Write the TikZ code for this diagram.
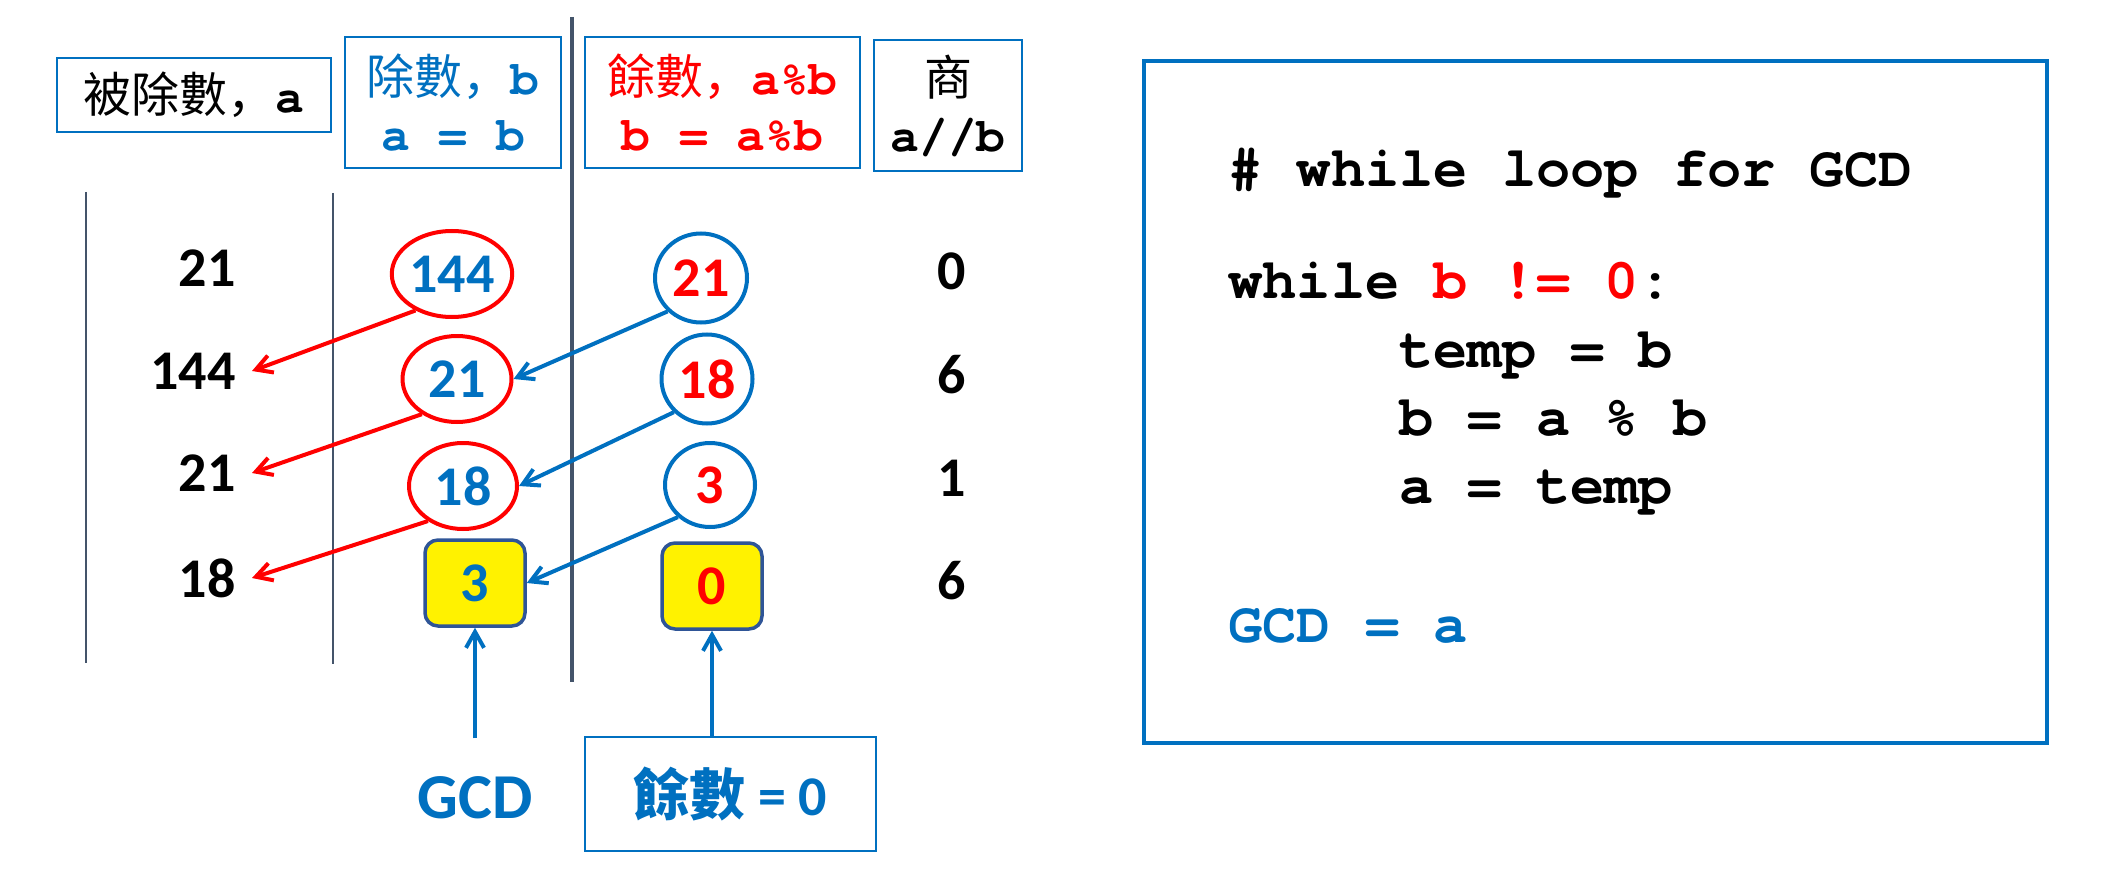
\documentclass[tikz,border=0pt]{standalone}
\usepackage{fontspec}
\usepackage{tikz}
\usetikzlibrary{shapes.geometric,arrows.meta}
\newfontfamily\cjkfont{Noto Sans CJK SC}
\newfontfamily\courfont{texgyrecursor}[Extension=.otf,UprightFont=*-regular,BoldFont=*-bold]
\newfontfamily\calfont{Carlito}
\definecolor{pptBlue}{HTML}{0070C0}
\definecolor{pptRed}{HTML}{FF0000}
\definecolor{slateLine}{HTML}{44546A}
\definecolor{navyBorder}{HTML}{2F5597}

\begin{document}
\begin{tikzpicture}[x=0.5pt,y=-0.5pt,
 headBox/.style={draw=pptBlue,line width=1pt,inner sep=0pt,align=center,font=\myfonthead},
 numCell/.style={inner sep=8pt,font=\myfontdigit},
 ovalRed/.style={ellipse,draw=pptRed,line width=2pt,inner sep=0pt,font=\myfontdigit},
 ovalBlue/.style={ellipse,draw=pptBlue,line width=2pt,inner sep=0pt,font=\myfontdigit},
 yellowBox/.style={rounded corners=6.5pt,draw=navyBorder,fill=yellow,line width=1.75pt,inner sep=0pt,minimum width=50pt,minimum height=43pt,font=\myfontdigit},
 redArrow/.style={draw=pptRed,line width=2pt,-{Straight Barb[length=8pt,width=9pt]}},
 blueArrow/.style={draw=pptBlue,line width=2pt,-{Straight Barb[length=8pt,width=9pt]}},
 codeLine/.style={anchor=base west,inner sep=0pt,font=\myfontcode}]
\newcommand{\myfonthead}{\fontsize{24}{28}\selectfont}
\newcommand{\myfontdigit}{\calfont\bfseries\fontsize{28}{32}\selectfont}
\newcommand{\myfontcode}{\courfont\bfseries\fontsize{28.5}{34}\selectfont}
\useasboundingbox (0,0) rectangle (2123,882);
%Column separators
\foreach \xx/\yt/\yb in {86/192/663,333/193/664} {
	\draw [slateLine,line width=0.8pt] (\xx,\yt) -- (\xx,\yb);
}
\draw [slateLine,line width=2pt] (572,17) -- (572,682);
%Header boxes
\node [headBox,minimum width=137pt,minimum height=37pt] (headA) at (194,95) {{\cjkfont 被除數，}{\courfont\bfseries a}};
\node [headBox,text=pptBlue,minimum width=108pt,minimum height=65.5pt] (headB) at (453,102.5) {{\cjkfont 除數，}{\courfont\bfseries b}\\{\courfont\bfseries a = b}};
\node [headBox,text=pptRed,minimum width=137.5pt,minimum height=65.5pt] (headR) at (722.5,102.5) {{\cjkfont 餘數，}{\courfont\bfseries a\%b}\\{\courfont\bfseries b = a\%b}};
\node [headBox,minimum width=74pt,minimum height=65.5pt] (headQ) at (948,105.5) {{\cjkfont 商}\\{\courfont\bfseries a//b}};
%Dividend column
\foreach \val/\yy [count=\i] in {21/268,144/371,21/473,18/578} {
	\node [numCell,anchor=east] (a\i) at (252,\yy) {\val};
}
%Quotient column
\foreach \val/\yy [count=\i] in {0/271,6/375,1/478,6/581} {
	\node [numCell] (q\i) at (952,\yy) {\val};
}
%Divisor column
\node [ovalRed,text=pptBlue,minimum width=53.5pt,minimum height=43pt] (b1) at (452,274) {144};
\node [ovalRed,text=pptBlue,minimum width=54.5pt,minimum height=43pt] (b2) at (457,379) {21};
\node [ovalRed,text=pptBlue,minimum width=54pt,minimum height=43pt] (b3) at (463,486) {18};
\node [yellowBox,text=pptBlue] (b4) at (475,583) {3};
%Remainder column
\node [ovalBlue,text=pptRed,minimum width=46pt,minimum height=44.5pt] (r1) at (701,278) {21};
\node [ovalBlue,text=pptRed,minimum width=45.5pt,minimum height=44.5pt] (r2) at (707,379) {18};
\node [ovalBlue,text=pptRed,minimum width=45pt,minimum height=42pt] (r3) at (710,485) {3};
\node [yellowBox,text=pptRed] (r4) at (712,586) {0};
%b becomes the next a
\draw [redArrow] (b1.-135) -- (a2.east);
\draw [redArrow] (b2.-135) -- (a3.east);
\draw [redArrow] (b3.-135) -- (a4.east);
%a%b becomes the next b
\draw [blueArrow] (r1.-135) -- (b2.east);
\draw [blueArrow] (r2.-135) -- (b3.east);
\draw [blueArrow] (r3.-135) -- (b4.east);
%Labels below
\node [inner sep=0pt,text=pptBlue,font=\calfont\bfseries\fontsize{32}{36}\selectfont] (gcd) at (475,798) {GCD};
\node [headBox,text=pptBlue,minimum width=145.5pt,minimum height=57pt,font=\myfontdigit] (remZero) at (730.5,794) {{\cjkfont\bfseries 餘數} = 0};
\draw [blueArrow,shorten <=19pt] (gcd) -- (b4);
\draw [blueArrow] (remZero.north -| r4) -- (r4);
%Code box
\node [draw=pptBlue,line width=2pt,minimum width=451.5pt,minimum height=341pt] (codeBox) at (1595.5,402) {};
\node [codeLine] (code1) at (1228,187) {\# while loop for GCD};
\node [codeLine] (code2) at (1228,298) {while \textcolor{pptRed}{b != 0}:};
\node [codeLine] (code3) at (1399,367) {temp = b};
\node [codeLine] (code4) at (1399,435) {b = a \% b};
\node [codeLine] (code5) at (1399,503) {a = temp};
\node [codeLine,text=pptBlue] (code6) at (1228,642) {GCD = a};
\end{tikzpicture}
\end{document}
